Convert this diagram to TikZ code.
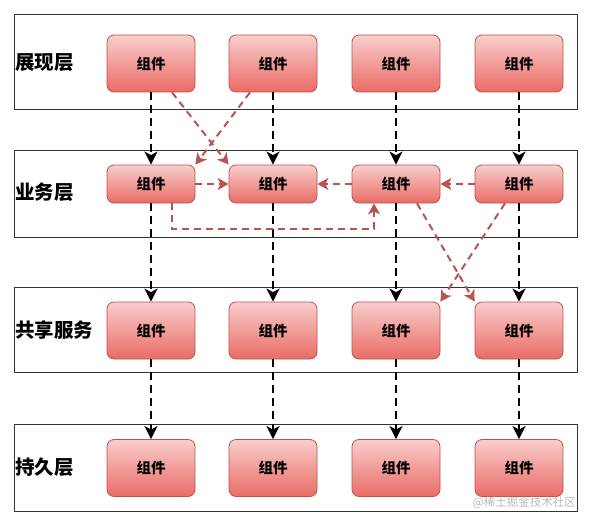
\documentclass[tikz,border=0pt]{standalone}
\usepackage{fontspec}
\setmainfont{Noto Sans CJK SC}
\usetikzlibrary{arrows.meta}
\definecolor{nodetop}{HTML}{F8CECC}
\definecolor{nodebot}{HTML}{EA6B66}
\definecolor{nodeedge}{HTML}{B85450}
\definecolor{redline}{HTML}{B85450}
\begin{document}
\begin{tikzpicture}[x=1pt,y=-1pt,
  comp/.style={draw=nodeedge, line width=0.8pt, rounded corners=7pt,
    top color=nodetop, bottom color=nodebot, minimum width=88pt,
    inner sep=0pt, font=\bfseries\fontsize{14.5}{15}\selectfont},
  tall/.style={comp, minimum height=57pt},
  short/.style={comp, minimum height=38pt},
  layerbox/.style={draw=black!80, line width=1pt, minimum width=563pt, inner sep=0pt},
  layerlabel/.style={anchor=west, inner sep=0pt, font=\bfseries\fontsize{19.5}{20}\selectfont},
  blackarrow/.style={draw=black, line width=2.2pt, dash pattern=on 8pt off 5pt,
    -{Stealth[length=13pt,width=13pt,inset=3.5pt]}},
  redarrow/.style={draw=redline, line width=2pt, dash pattern=on 7pt off 5pt,
    -{Stealth[length=11pt,width=12pt,inset=3pt]}},
  wmark/.style={anchor=south east, inner sep=1pt, text=gray!55, font=\fontsize{11.5}{12}\selectfont}
]
\useasboundingbox (0,0) rectangle (592,527);
% layers
\node[layerbox, minimum height=94pt] (L1) at (295.5,62) {};
\node[layerbox, minimum height=87pt] (L2) at (295.5,193.5) {};
\node[layerbox, minimum height=85pt] (L3) at (295.5,329.5) {};
\node[layerbox, minimum height=87pt] (L4) at (295.5,467.5) {};
\node[layerlabel] (t1) at (15,63) {展现层};
\node[layerlabel] (t2) at (15,192) {业务层};
\node[layerlabel] (t3) at (15,330) {共享服务};
\node[layerlabel] (t4) at (15,467) {持久层};
% components
\foreach \i/\x in {1/151,2/273,3/396,4/519}{
  \node[tall]  (n1\i) at (\x,63.5) {组件};
  \node[short] (n2\i) at (\x,184) {组件};
  \node[tall]  (n3\i) at (\x,330.5) {组件};
  \node[tall]  (n4\i) at (\x,468) {组件};
}
% black arrows
\foreach \i in {1,2,3,4}{
  \draw[blackarrow] (n1\i.south) -- (n2\i.north);
  \draw[blackarrow] (n2\i.south) -- (n3\i.north);
  \draw[blackarrow] (n3\i.south) -- (n4\i.north);
}
% red arrows
\draw[redarrow] ([xshift=21pt]n11.south) -- (n22.north west);
\draw[redarrow] ([xshift=-23pt]n12.south) -- (n21.north east);
\draw[redarrow] (n21.east) -- (n22.west);
\draw[redarrow] (n23.west) -- (n22.east);
\draw[redarrow] (n24.west) -- (n23.east);
\draw[redarrow] ([xshift=21pt]n21.south) -- ++(0,26) -| ([xshift=-22pt]n23.south);
\draw[redarrow] ([xshift=21pt]n23.south) -- (n34.north west);
\draw[redarrow] ([xshift=-14pt]n24.south) -- (n33.north east);
\node[wmark] (wm) at (577,510) {@稀土掘金技术社区};
\end{tikzpicture}
\end{document}
